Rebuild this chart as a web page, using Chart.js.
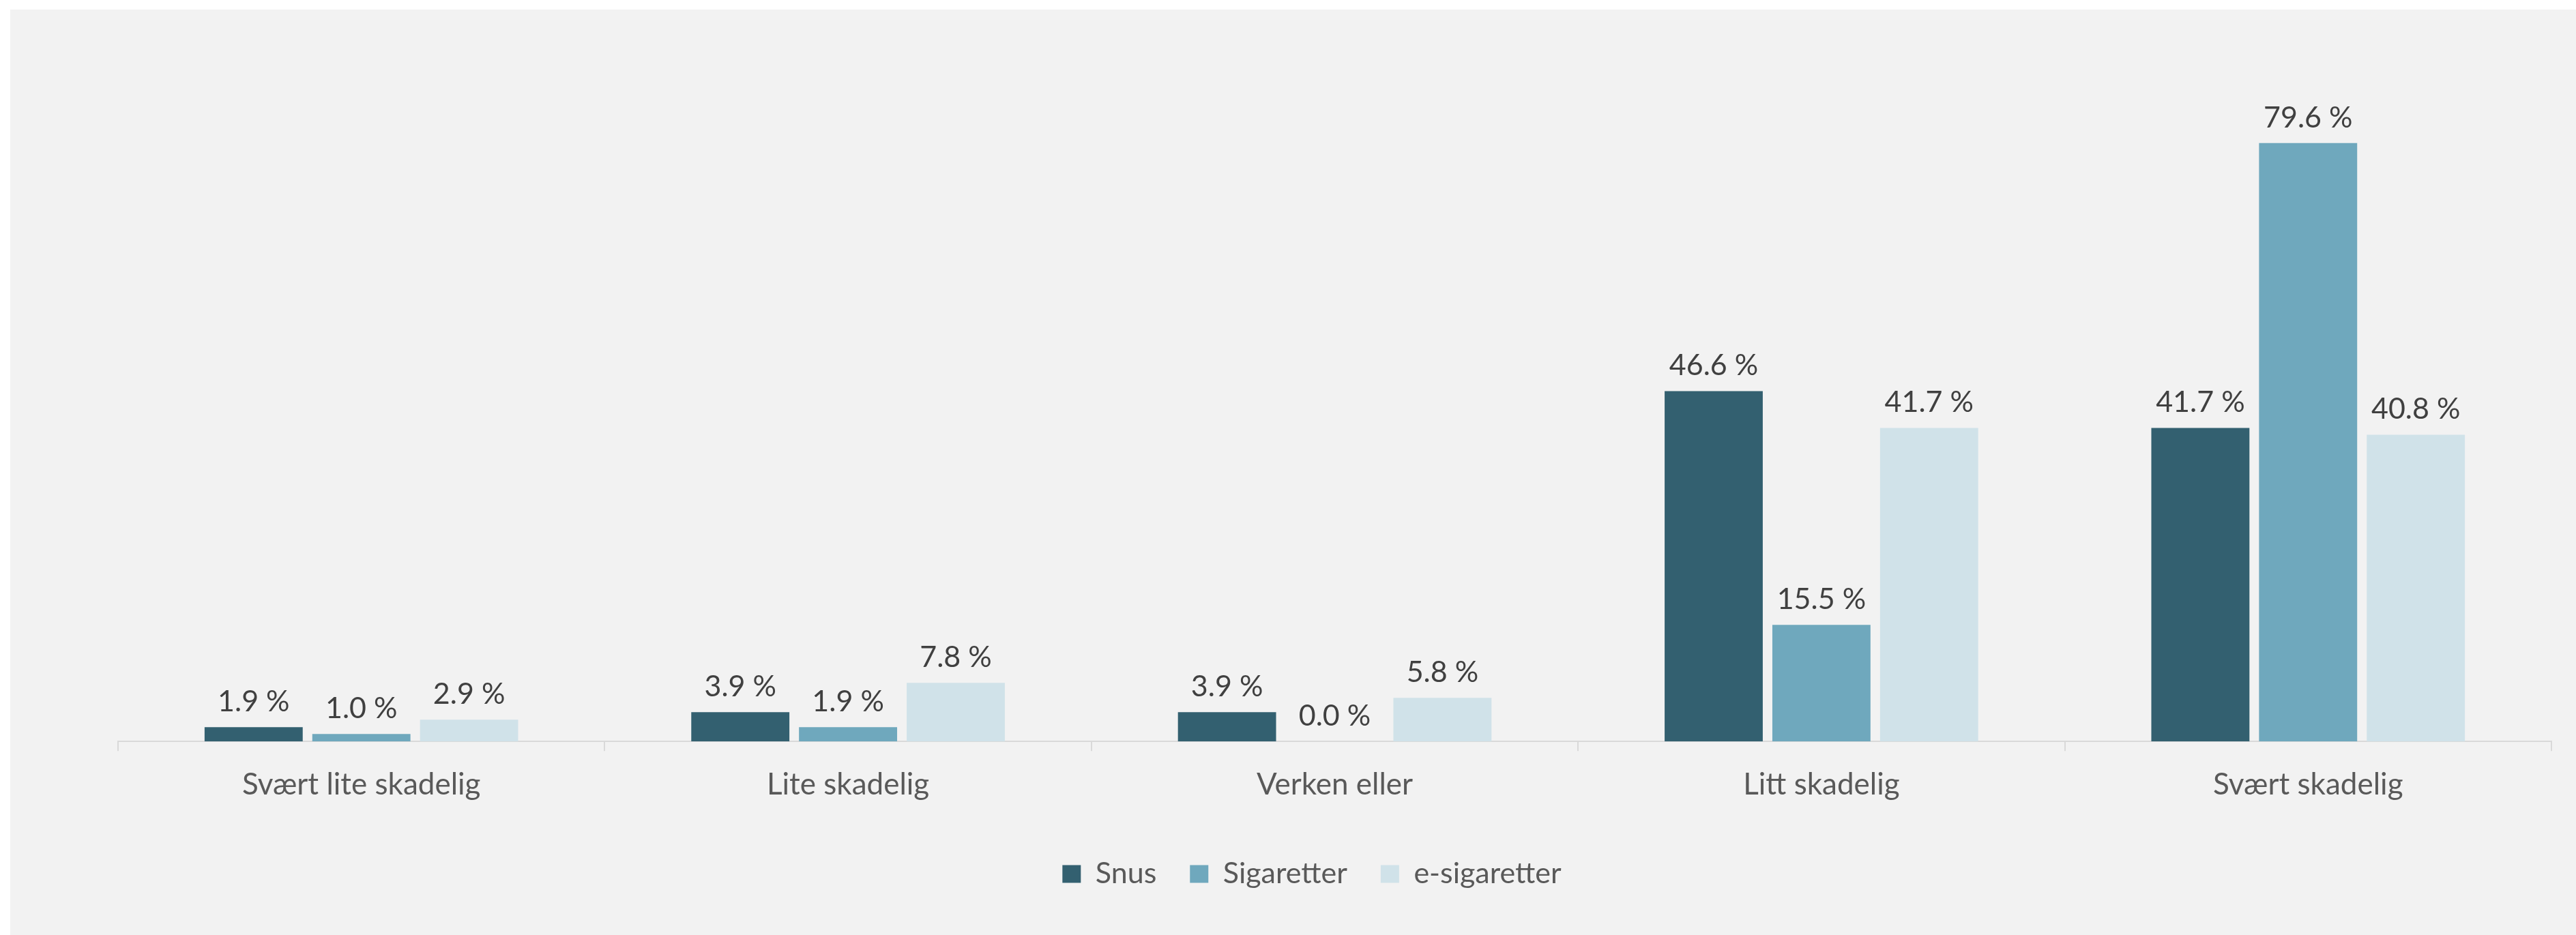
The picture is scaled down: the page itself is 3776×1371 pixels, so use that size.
<!DOCTYPE html>
<html>
<head>
<meta charset="utf-8">
<script src="https://cdn.jsdelivr.net/npm/chart.js@4.4.1/dist/chart.umd.min.js"></script>
<style>
  html, body { margin: 0; padding: 0; background: #ffffff; }
  #wrap { position: absolute; left: 15px; top: 14px; width: 3761px; height: 1357px; background: #f2f2f2; }
</style>
</head>
<body>
<div id="wrap"><canvas id="myChart" width="3761" height="1357"></canvas></div>
<script>

var categories = ['Svært lite skadelig', 'Lite skadelig', 'Verken eller', 'Litt skadelig', 'Svært skadelig'];
var snus = [1.9, 3.9, 3.9, 46.6, 41.7];
var sigaretter = [1.0, 1.9, 0.0, 15.5, 79.6];
var eSigaretter = [2.9, 7.8, 5.8, 41.7, 40.8];

// value labels above each bar, "41.7 %"
var barValues = {
  id: 'barValues',
  afterDatasetsDraw: function(chart) {
    var ctx = chart.ctx;
    ctx.save();
    ctx.font = '43px Lato';
    ctx.fillStyle = '#404040';
    ctx.textAlign = 'center';
    ctx.textBaseline = 'alphabetic';
    chart.data.datasets.forEach(function(ds, i) {
      chart.getDatasetMeta(i).data.forEach(function(bar, j) {
        var txt = ds.data[j].toFixed(1) + ' %';
        ctx.fillText(txt, bar.x, bar.y - 23);
      });
    });
    ctx.restore();
  }
};

function stampChart() {

  var ctx = document.getElementById('myChart').getContext('2d');
  var chart = new Chart(ctx, {
    type: 'bar',
    data: {
      labels: categories,
      datasets: [{
        label: 'Snus',
        backgroundColor: '#336070',
        data: snus
      }, {
        label: 'Sigaretter',
        backgroundColor: '#6fa8bd',
        data: sigaretter
      }, {
        label: 'e-sigaretter',
        backgroundColor: '#d0e2e9',
        data: eSigaretter
      }]
    },
    options: {
      responsive: false,
      animation: false,
      devicePixelRatio: 1,
      categoryPercentage: 0.664,
      barPercentage: 0.911,
      layout: {
        padding: { top: 81, left: 91, right: 36, bottom: 58 }
      },
      scales: {
        x: {
          grid: {
            drawOnChartArea: false,
            tickLength: 14,
            color: '#d9d9d9',
            lineWidth: 2
          },
          border: { color: '#d9d9d9', width: 2 },
          ticks: {
            padding: 23,
            color: '#595959',
            font: { family: 'Lato', size: 44 }
          },
          // a little more room between the labels and the legend
          afterFit: function(scale) { scale.height += 11; }
        },
        y: {
          min: 0,
          max: 90,
          grid: { display: false },
          border: { display: false },
          ticks: { display: false },
          // empty gutter left of the bars
          afterFit: function(scale) { scale.width = 67; }
        }
      },
      plugins: {
        legend: {
          position: 'bottom',
          labels: {
            boxWidth: 27,
            boxHeight: 26,
            padding: 49,
            color: '#595959',
            font: { family: 'Lato', size: 43 }
          }
        },
        tooltip: { enabled: false }
      }
    },
    plugins: [barValues]
  });
}

stampChart();
</script>
</body>
</html>
